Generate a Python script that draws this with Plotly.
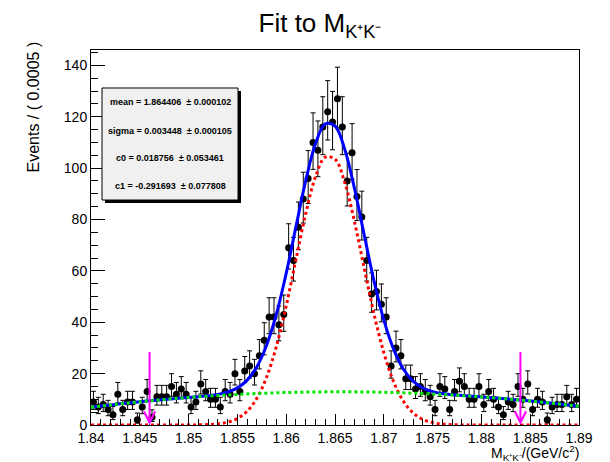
import numpy as np
import plotly.graph_objects as go

# ---------------- data ----------------
bin_width = 0.0005
x_lo, x_hi = 1.84, 1.89
counts = [9, 7, 8, 6, 4, 12, 6, 9, 9, 2,
          7, 13, 3, 11, 11, 11, 15, 12, 14, 12,
          7, 9, 16, 13, 10, 10, 7, 13, 12, 20,
          13, 21, 23, 20, 27, 33, 42, 42, 39, 43,
          69, 64, 77, 88, 96, 110, 107, 116, 122, 118,
          127, 116, 95, 106, 89, 81, 64, 51, 52, 47,
          42, 23, 30, 27, 18, 18, 14, 15, 13, 11,
          6, 15, 14, 6, 13, 17, 15, 10, 10, 15,
          8, 13, 10, 7, 4, 9, 8, 15, 10, 16,
          6, 10, 9, 2, 7, 8, 8, 11, 8, 10]
mass = np.round(x_lo + bin_width * (np.arange(len(counts)) + 0.5), 5)

curve_x = np.round(np.linspace(1.840, 1.890, 51), 3)
signal_y = [0, 0, 0, 0, 0, 0, 0, 0, 0, 0,
            0.02, 0.06, 0.16, 0.44, 1.11, 2.54, 5.38, 10.46, 18.7, 30.7,
            46.4, 64.5, 82.3, 96.6, 104.3, 103.5, 94.4, 79.1, 61.0, 43.2,
            28.2, 16.9, 9.29, 4.70, 2.19, 0.94, 0.37, 0.13, 0.04, 0.01,
            0, 0, 0, 0, 0, 0, 0, 0, 0, 0, 0]
bkg_y = [6.90, 7.36, 7.81, 8.23, 8.64, 9.03, 9.40, 9.76, 10.09, 10.41,
         10.70, 10.98, 11.24, 11.48, 11.71, 11.91, 12.09, 12.26, 12.41, 12.54,
         12.65, 12.74, 12.81, 12.87, 12.90, 12.92, 12.92, 12.90, 12.86, 12.80,
         12.72, 12.63, 12.51, 12.38, 12.23, 12.06, 11.87, 11.66, 11.44, 11.19,
         10.93, 10.65, 10.35, 10.03, 9.69, 9.33, 8.96, 8.56, 8.15, 7.72, 7.27]
total_y = [6.90, 7.36, 7.81, 8.23, 8.64, 9.03, 9.40, 9.76, 10.09, 10.41,
           10.72, 11.04, 11.40, 11.92, 12.82, 14.45, 17.47, 22.72, 31.11, 43.24,
           59.05, 77.24, 95.11, 109.47, 117.20, 116.42, 107.32, 92.00, 73.86, 56.00,
           40.92, 29.53, 21.80, 17.08, 14.42, 13.00, 12.24, 11.79, 11.48, 11.20,
           10.93, 10.65, 10.35, 10.03, 9.69, 9.33, 8.96, 8.56, 8.15, 7.72, 7.27]

arrow_x = [1.846, 1.884]
arrow_top = 29

param_lines = ["mean = 1.864406  \u00b1 0.000102",
               "sigma = 0.003448  \u00b1 0.000105",
               "c0 = 0.018756  \u00b1 0.053461",
               "c1 = -0.291693  \u00b1 0.077808"]

# Poisson (Gehrels) asymmetric errors from the counts
n = np.array(counts, dtype=float)
err_hi = np.sqrt(n + 0.75) + 1.0
err_lo = n - n * (1 - 1 / (9 * n) - 1 / (3 * np.sqrt(n))) ** 3

# ---------------- layout geometry (pixels) ----------------
W, H = 610, 462
L, R, T, B = 91, 579, 50, 425
y_max = 146.0
FONT = "Liberation Sans, Arial, Helvetica, sans-serif"


def xp(px):
    return (px - L) / (R - L)


def yp(py):
    return (B - py) / (B - T)


fig = go.Figure()

fig.add_trace(go.Scatter(
    x=mass, y=counts, mode="markers",
    marker=dict(color="black", size=7),
    error_y=dict(type="data", symmetric=False, array=err_hi, arrayminus=err_lo,
                 color="black", thickness=1, width=2.5),
    showlegend=False))

fig.add_trace(go.Scatter(x=curve_x, y=total_y, mode="lines",
                         line=dict(color="#0000ff", width=3, shape="spline"),
                         showlegend=False))
fig.add_trace(go.Scatter(x=curve_x, y=signal_y, mode="lines",
                         line=dict(color="#ff0000", width=3, dash="dot", shape="spline"),
                         showlegend=False))
fig.add_trace(go.Scatter(x=curve_x, y=bkg_y, mode="lines",
                         line=dict(color="#00e600", width=3, dash="dot", shape="spline"),
                         showlegend=False))

annotations = []
for ax_ in arrow_x:
    annotations.append(dict(x=ax_, y=0, ax=ax_, ay=arrow_top, xref="x", yref="y",
                            axref="x", ayref="y", text="", showarrow=True,
                            arrowhead=5, arrowsize=1.1, arrowwidth=2,
                            arrowcolor="#ff00ff", standoff=0))

shapes = [
    dict(type="rect", xref="paper", yref="paper",
         x0=xp(105), x1=xp(241), y0=yp(203), y1=yp(91),
         fillcolor="black", line=dict(width=0), layer="above"),
    dict(type="rect", xref="paper", yref="paper",
         x0=xp(102), x1=xp(238), y0=yp(200), y1=yp(88),
         fillcolor="#f0f0f0", line=dict(color="black", width=1), layer="above"),
]
for txt, py in zip(param_lines, [102, 131, 158, 186]):
    annotations.append(dict(x=xp(170), y=yp(py), xref="paper", yref="paper",
                            text=txt, showarrow=False, xanchor="center", yanchor="middle",
                            font=dict(family=FONT, size=9, color="black", weight="bold")))

# axis titles
annotations.append(dict(x=xp(581), y=yp(453), xref="paper", yref="paper",
                        text="M<sub>K\u207aK\u207b</sub>/(GeV/c<sup>2</sup>)",
                        showarrow=False, xanchor="right", yanchor="middle",
                        font=dict(family=FONT, size=14, color="black")))
annotations.append(dict(x=xp(33), y=yp(40), xref="paper", yref="paper",
                        text="Events / ( 0.0005 )", textangle=-90,
                        showarrow=False, xanchor="center", yanchor="top",
                        font=dict(family=FONT, size=16, color="black")))

fig.update_layout(
    width=W, height=H,
    margin=dict(l=L, r=W - R, t=T, b=H - B, pad=0),
    paper_bgcolor="white", plot_bgcolor="white",
    title=dict(text="Fit to M<sub>K\u207aK\u207b</sub>", x=320 / W, y=1 - 23 / H,
               xanchor="center", yanchor="middle", xref="container", yref="container",
               font=dict(family=FONT, size=26, color="black")),
    shapes=shapes, annotations=annotations,
    font=dict(family=FONT, color="black"),
)
fig.update_xaxes(range=[x_lo, x_hi], showgrid=False, zeroline=False,
                 showline=True, linecolor="black", linewidth=1, mirror=True,
                 ticks="inside", ticklen=11, tickcolor="black", dtick=0.005, tick0=1.84,
                 tickfont=dict(family=FONT, size=14, color="black"),
                 minor=dict(dtick=0.001, ticks="inside", ticklen=6, tickcolor="black"))
fig.update_yaxes(range=[0, y_max], showgrid=False, zeroline=False,
                 showline=True, linecolor="black", linewidth=1, mirror=True,
                 ticks="inside", ticklen=14, tickcolor="black", dtick=20, tick0=0,
                 tickfont=dict(family=FONT, size=14, color="black"),
                 minor=dict(dtick=5, ticks="inside", ticklen=7, tickcolor="black"))

fig.write_html("out.html")
